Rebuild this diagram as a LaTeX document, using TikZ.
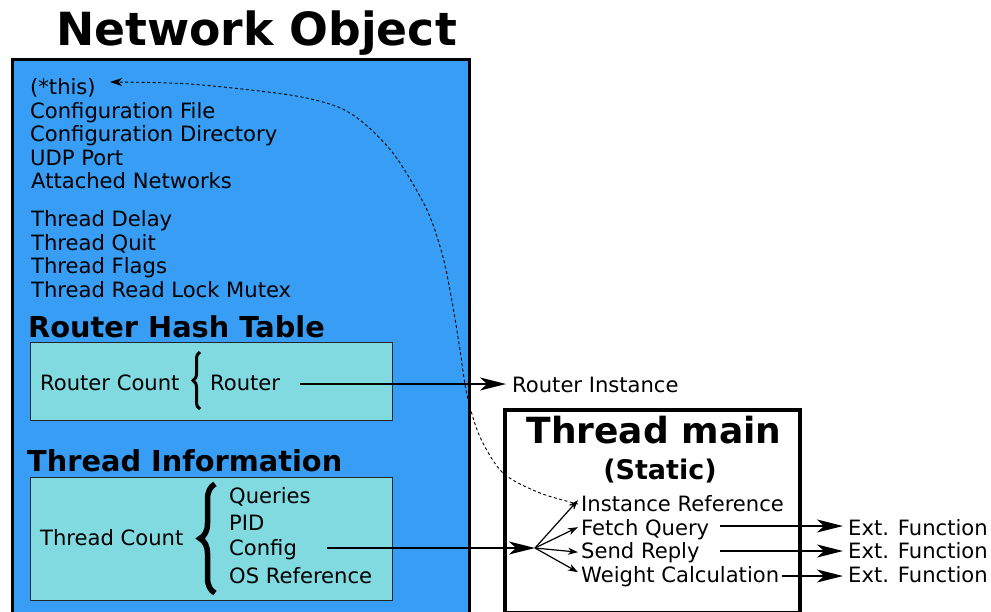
\documentclass[tikz,border=0pt]{standalone}
\usepackage{fontspec}
\setmainfont{DejaVu Sans}
\usetikzlibrary{arrows.meta,decorations.pathreplacing}
\definecolor{netblue}{RGB}{56,158,245}
\definecolor{tblcyan}{RGB}{128,218,224}

\begin{document}
\begin{tikzpicture}[x=1pt,y=-1pt,
  lbl/.style={inner sep=0pt, anchor=base west, font=\fontsize{21.1}{25}\selectfont},
  hdr/.style={inner sep=0pt, anchor=base west, font=\fontsize{28.8}{32}\selectfont\bfseries},
  tbl/.style={fill=tblcyan, draw=black!85, line width=1.3pt, anchor=north west, inner sep=0pt},
  bigarrow/.style={line width=2pt, -{Stealth[length=26pt,width=13pt,inset=7pt]}},
  fanarrow/.style={line width=1.2pt, -{Stealth[length=10pt,width=7pt,inset=3pt]}},
  refarrow/.style={line width=0.9pt, dash pattern=on 3pt off 2.5pt,
    -{Stealth[length=12pt,width=8pt,inset=3.5pt]}},
  bracefig/.style={decorate, decoration={brace, amplitude=#1}},
]
\useasboundingbox (0,0) rectangle (991,611);
\clip (0,0) rectangle (991,611);

% Network object container
\node[font=\fontsize{45.7}{50}\selectfont\bfseries, inner sep=0pt, anchor=base]
  (title) at (256.5,45) {Network Object};
\node[draw=black, fill=netblue, line width=3.5pt, anchor=north west, inner sep=0pt,
  minimum width=457pt, minimum height=570pt] (netobj) at (10.5,57.5) {};

% Member fields
\node[lbl] (this)    at (30,94)  {(*this)};
\node[lbl] (cfgfile) at (30,118) {Configuration File};
\node[lbl] (cfgdir)  at (30,141) {Configuration Directory};
\node[lbl] (udp)     at (30,165) {UDP Port};
\node[lbl] (attnet)  at (31,188) {Attached Networks};
\node[lbl] (tdelay)  at (31,226) {Thread Delay};
\node[lbl] (tquit)   at (31,250) {Thread Quit};
\node[lbl] (tflags)  at (31,273) {Thread Flags};
\node[lbl] (tmutex)  at (31,297) {Thread Read Lock Mutex};

% Router hash table
\node[hdr] (rhtitle) at (28,337) {Router Hash Table};
\node[tbl, minimum width=362pt, minimum height=78pt] (rtable) at (30,342) {};
\node[lbl] (rcount) at (40,390)  {Router Count};
\node[lbl] (router) at (210,390) {Router};
\draw[bracefig=7pt, line width=3pt] (200,409) -- (200,352);

% Thread information
\node[hdr] (tititle) at (27,471) {Thread Information};
\node[tbl, minimum width=362pt, minimum height=123pt] (ttable) at (30,477) {};
\node[lbl] (tcount)  at (40,545)  {Thread Count};
\node[lbl] (queries) at (229,503) {Queries};
\node[lbl] (pid)     at (229,530) {PID};
\node[lbl] (config)  at (229,555) {Config};
\node[lbl] (osref)   at (229,583) {OS Reference};
\draw[bracefig=15pt, line width=5.5pt] (215,593) -- (215,484);

% Router instance
\node[lbl] (rinst) at (512,392) {Router Instance};

% Static thread entry point
\node[draw=black, line width=4pt, anchor=north west, inner sep=0pt,
  minimum width=295pt, minimum height=203pt] (tmain) at (503,408) {};
\node[font=\fontsize{36}{40}\selectfont\bfseries, inner sep=0pt, anchor=base]
  (tmtitle) at (654,443) {Thread main};
\node[font=\fontsize{27}{30}\selectfont\bfseries, inner sep=0pt, anchor=base]
  (tmstatic) at (660,479) {(Static)};
\node[lbl] (iref)  at (581,511) {Instance Reference};
\node[lbl] (fq)    at (581,535) {Fetch Query};
\node[lbl] (sr)    at (581,558) {Send Reply};
\node[lbl] (wc)    at (581,582) {Weight Calculation};
\node[lbl] (ext1)  at (848,535) {Ext. Function};
\node[lbl] (ext2)  at (848,558) {Ext. Function};
\node[lbl] (ext3)  at (848,582) {Ext. Function};

% Connector end points
\coordinate (fan)    at (535,548);
\coordinate (rstart) at (300,384);
\coordinate (cstart) at (327,548);
\coordinate (fqline) at (720,526);
\coordinate (srline) at (720,551);
\coordinate (wcline) at (782,576);
\coordinate (refstart) at (578,504);
\coordinate (refend)   at (110,82);

% Connectors
\draw[bigarrow] (rstart) -- ([xshift=-6pt]rinst.west |- rstart);
\draw[bigarrow] (cstart) -- (fan);
\draw[fanarrow] (fan) -- ([shift={(-3,-3)}]iref.west);
\draw[fanarrow] (fan) -- ([shift={(-3,-2)}]fq.west);
\draw[fanarrow] (fan) -- ([shift={(-3,0)}]sr.west);
\draw[fanarrow] (fan) -- ([shift={(-3,-4)}]wc.west);
\draw[bigarrow] (fqline) -- ([xshift=-5pt]ext1.west |- fqline);
\draw[bigarrow] (srline) -- ([xshift=-5pt]ext2.west |- srline);
\draw[bigarrow] (wcline) -- ([xshift=-5pt]ext3.west |- wcline);
\draw[refarrow] plot[smooth, tension=0.5] coordinates {
  (refstart) (540,493) (503,473) (480,437) (467,395) (460,350) (453,307)
  (443,257) (427,210) (396,157) (366,125) (338,107) (290,95) (190,84) (refend)};
\end{tikzpicture}
\end{document}
